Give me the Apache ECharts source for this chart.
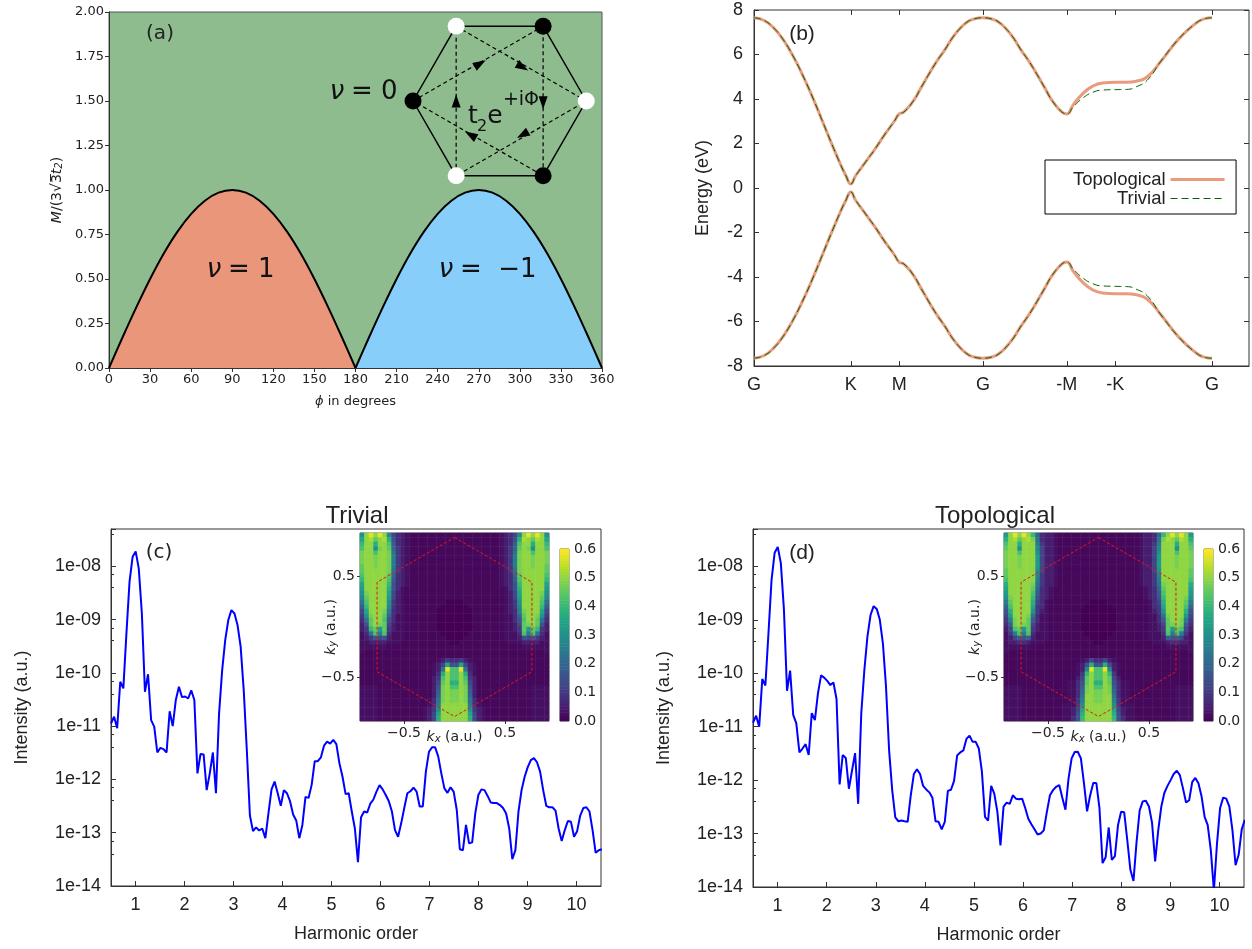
<!DOCTYPE html>
<html>
<head>
<meta charset="utf-8">
<style>html,body{margin:0;padding:0;background:#fff}#c{width:1252px;height:949px}</style>
<script src="https://cdn.jsdelivr.net/npm/echarts@6/dist/echarts.min.js"></script>
</head>
<body>
<div id="c"></div>
<script>
// ---------- panel (a) ----------
const phiLeft = [0,10,20,30,40,50,60,70,80,90,100,110,120,130,140,150,160,170,180];
const phiRight = [180,190,200,210,220,230,240,250,260,270,280,290,300,310,320,330,340,350,360];
const massLeft = [0,0.174,0.342,0.5,0.643,0.766,0.866,0.94,0.985,1,0.985,0.94,0.866,0.766,0.643,0.5,0.342,0.174,0];
const massRight = [0,0.174,0.342,0.5,0.643,0.766,0.866,0.94,0.985,1,0.985,0.94,0.866,0.766,0.643,0.5,0.342,0.174,0];
// honeycomb sketch, in the panel's own axis units
const hexPhi = [222,253.5,317,348.5,317,253.5,222];
const hexMass = [1.5,1.92,1.92,1.5,1.08,1.08,1.5];
const dashAPhi = [222,317,317,222];
const dashAMass = [1.5,1.92,1.08,1.5];
const dashBPhi = [253.5,348.5,253.5,253.5];
const dashBMass = [1.92,1.5,1.08,1.92];
const blackNodes = [[222,1.5],[317,1.92],[317,1.08]];
const whiteNodes = [[253.5,1.92],[348.5,1.5],[253.5,1.08]];
const arrowPhi = [271,302,253.5,317,302,264];
const arrowMass = [1.71,1.69,1.5,1.49,1.31,1.31];
const arrowTurn = [-60,-120,0,180,120,60];

// ---------- panel (b) ----------
const pathX = [0,0.2,0.4,0.6,0.8,1,1.2,1.4,1.6,1.8,1.9,2,2.1,2.3,2.5,2.7,2.9,3,3.1,3.29,3.45,3.61,3.78,3.94,4.1,4.27,4.4,4.52,4.73,4.94,5.06,5.19,5.36,5.52,5.68,5.85,6.01,6.17,6.36,6.464,6.6,6.8,7,7.2,7.464,7.7,7.9,8.13,8.41,8.77,9.1,9.3,9.464];
const topoUpper = [7.65,7.54,7.21,6.68,5.96,5.1,4.13,3.08,2.02,1,0.55,0.18,0.55,1.15,1.75,2.4,3,3.33,3.42,3.9,4.5,5.1,5.7,6.2,6.75,7.2,7.45,7.58,7.65,7.58,7.45,7.2,6.75,6.2,5.7,5.1,4.5,3.9,3.42,3.33,3.75,4.25,4.58,4.72,4.75,4.75,4.8,5,5.7,6.68,7.35,7.6,7.65];
const topoLower = [-7.65,-7.54,-7.21,-6.68,-5.96,-5.1,-4.13,-3.08,-2.02,-1,-0.55,-0.18,-0.55,-1.15,-1.75,-2.4,-3,-3.33,-3.42,-3.9,-4.5,-5.1,-5.7,-6.2,-6.75,-7.2,-7.45,-7.58,-7.65,-7.58,-7.45,-7.2,-6.75,-6.2,-5.7,-5.1,-4.5,-3.9,-3.42,-3.33,-3.75,-4.25,-4.58,-4.72,-4.75,-4.75,-4.8,-5,-5.7,-6.68,-7.35,-7.6,-7.65];
const trivUpper = [7.65,7.54,7.21,6.68,5.96,5.1,4.13,3.08,2.02,1,0.55,0.18,0.55,1.15,1.75,2.4,3,3.33,3.42,3.9,4.5,5.1,5.7,6.2,6.75,7.2,7.45,7.58,7.65,7.58,7.45,7.2,6.75,6.2,5.7,5.1,4.5,3.9,3.42,3.33,3.65,4.05,4.3,4.4,4.42,4.43,4.55,4.85,5.7,6.68,7.35,7.6,7.65];
const trivLower = [-7.65,-7.54,-7.21,-6.68,-5.96,-5.1,-4.13,-3.08,-2.02,-1,-0.55,-0.18,-0.55,-1.15,-1.75,-2.4,-3,-3.33,-3.42,-3.9,-4.5,-5.1,-5.7,-6.2,-6.75,-7.2,-7.45,-7.58,-7.65,-7.58,-7.45,-7.2,-6.75,-6.2,-5.7,-5.1,-4.5,-3.9,-3.42,-3.33,-3.65,-4.05,-4.3,-4.4,-4.42,-4.43,-4.55,-4.85,-5.7,-6.68,-7.35,-7.6,-7.65];
const kPositions = [0,2,3,4.732,6.464,7.464,9.464];
const kNames = ['G','K','M','G','-M','-K','G'];

// ---------- panels (c), (d) ----------
const harmonicStep = 0.063;
const harmonicStart = 0.5;
const harmonicTicks = [1,2,3,4,5,6,7,8,9,10];
const spectrumTrivial = [1.12e-11,1.5e-11,9.1e-12,6.8e-11,5.1e-11,5.5e-10,5.1e-9,1.5e-8,1.9e-8,9e-9,1.3e-9,4.4e-11,9.4e-11,1.3e-11,9.8e-12,3.2e-12,3.9e-12,3.7e-12,3.2e-12,1.9e-11,1e-11,3.1e-11,5.5e-11,3.5e-11,3.6e-11,3.3e-11,4.7e-11,3.1e-11,1.3e-12,3e-12,2.95e-12,6.3e-13,1.3e-12,3.2e-12,5.5e-13,1.7e-11,1.1e-10,4.1e-10,9.8e-10,1.5e-9,1.3e-9,7.8e-10,3.1e-10,4.7e-11,3.5e-12,2.1e-13,1.07e-13,1.26e-13,1.1e-13,1.2e-13,7.9e-14,2.3e-13,6.5e-13,9.1e-13,5.5e-13,3.2e-13,6.3e-13,5.5e-13,3.9e-13,2.2e-13,1.7e-13,7.9e-14,1.4e-13,4.7e-13,4.5e-13,7.9e-13,2.2e-12,2.2e-12,2.6e-12,4.3e-12,5.1e-12,4.7e-12,5.5e-12,4.6e-12,2e-12,1.12e-12,5.3e-13,5.5e-13,2.5e-13,1.2e-13,2.8e-14,1.95e-13,2.5e-13,2.4e-13,3.5e-13,4.2e-13,5.9e-13,7.8e-13,6.5e-13,5.1e-13,3.9e-13,2.5e-13,1.12e-13,8.4e-14,1.5e-13,2.9e-13,5.5e-13,6e-13,7e-13,5.9e-13,3.1e-13,3.1e-13,1.4e-12,3.3e-12,4e-12,4e-12,2.7e-12,1.3e-12,6.8e-13,5.6e-13,7.1e-13,5.9e-13,2.7e-13,4.9e-14,4.7e-14,1.4e-13,6.3e-14,6.6e-14,2.3e-13,5.1e-13,6.5e-13,6.3e-13,4.9e-13,3.7e-13,3.6e-13,3.6e-13,3.3e-13,2.9e-13,2.3e-13,1.2e-13,3.2e-14,4.7e-14,2.5e-13,6.3e-13,1.12e-12,1.7e-12,2.3e-12,2.5e-12,2.1e-12,1.4e-12,6.3e-13,3.2e-13,3e-13,3e-13,2.6e-13,1.2e-13,7e-14,1.12e-13,1.66e-13,1.6e-13,8.4e-14,1.07e-13,2.1e-13,2.9e-13,3e-13,2.5e-13,1.12e-13,4.2e-14,4.7e-14,4.9e-14];
const spectrumTopological = [1.19e-11,1.6e-11,1e-11,7.8e-11,5.9e-11,5.6e-10,5.6e-9,1.8e-8,2.3e-8,1.15e-8,1.55e-9,4.7e-11,1.12e-10,1.66e-11,1.15e-11,3.3e-12,3.9e-12,4.7e-12,2.95e-12,1.8e-11,1.33e-11,4.2e-11,9.1e-11,8.3e-11,7.2e-11,6e-11,6.7e-11,3.3e-11,8.3e-13,2.95e-12,2.6e-12,6.9e-13,1.5e-12,3.2e-12,3.6e-13,1.78e-11,1.15e-10,4.9e-10,1.23e-9,1.8e-9,1.6e-9,1e-9,3.6e-10,5.6e-11,3.6e-12,6.5e-13,2e-13,1.7e-13,1.75e-13,1.7e-13,1.66e-13,5.2e-13,1.3e-12,1.6e-12,1.3e-12,7.8e-13,6.7e-13,5.9e-13,4.7e-13,1.7e-13,1.66e-13,1.2e-13,1.66e-13,6.3e-13,6.6e-13,9.7e-13,2.9e-12,3.3e-12,3.6e-12,5.9e-12,6.8e-12,5.2e-12,5.2e-12,3.9e-12,1.44e-12,2.05e-13,1.75e-13,7.8e-13,5.6e-13,2.55e-13,6e-14,3.2e-13,3.8e-13,3.6e-13,5.2e-13,4.5e-13,4.4e-13,4.5e-13,3e-13,1.9e-13,1.5e-13,1.2e-13,9.6e-14,1e-13,1.15e-13,2.55e-13,5.2e-13,6.5e-13,7.5e-13,8.1e-13,4.7e-13,2.8e-13,1.07e-12,2.55e-12,3.35e-12,3.4e-12,2.55e-12,8.7e-13,2.6e-13,5.2e-13,8.8e-13,8.8e-13,3e-13,2.8e-14,3.6e-14,1.3e-13,3.2e-14,3.8e-14,1.44e-13,2.55e-13,2.5e-13,7.5e-14,2.1e-14,1.3e-14,7e-14,2.7e-13,4e-13,4.1e-13,3.2e-13,1.6e-13,3e-14,1.15e-13,3.2e-13,5.8e-13,7.8e-13,1e-12,1.3e-12,1.5e-12,1.24e-12,7e-13,3.8e-13,4.2e-13,9.3e-13,1.1e-12,8.7e-13,5e-13,2.05e-13,1.44e-13,4.9e-14,8.6e-15,6.5e-14,3e-13,4.7e-13,4.5e-13,3.2e-13,1.15e-13,2.55e-14,4e-14,1.2e-13,1.8e-13];

// ---------- insets: left half of each row (10|5|6 cells), top row first.
// one base-36 digit = 0.025; '.' = faint background
const cellStep = 0.025;
const faintCell = 0.012;
const occupationTrivial = [
"cknknkb532|1....|......","ekliklf632|1....|......","gkkfkkh732|1....|......","hkkcjki842|1....|......",
"jkkhkkj942|1....|......","jkkjkkja42|1....|......","jkkjkkja42|1....|......","ikkjkkja42|1....|......",
"ikkkkkj942|1....|......","hkkkkki832|1....|......","gkkkkkh732|1....|......","ekkkkkg632|1....|......",
"dkkkkkf631|.....|......","cjkkkke521|.....|......","bikkkkd521|.....|......","9hkkkkc421|.....|....00",
"7gkkkkb421|.....|...000","5ekkkja321|.....|..0000","4cjkki8311|.....|..0000","39ikkh6311|.....|..0000",
"26ikji5211|.....|..0000","24gidi4211|.....|..0000","139hah3111|.....|...000","1246562111|.....|....00",
"112222111.|.....|.....0","111111....|.....|......","1.........|.....|......","..........|.....|......",
"..........|.....|..1243","..........|.....|.125e6","..........|.....|.129nh","..........|.....|.13fkh",
"..........|.....|.24hkh","..........|.....|.25ikf","1111......|.....|.26jkh","1111......|.....|.27jkj",
"1111......|.....|.28jkj","1111......|.....|139jkj","1111......|.....|13akkk","1111......|....1|24ckkk",
"1111......|....1|25ekkk","1111......|....1|25fkkk"];
const occupationTopological = [
"dknknkg832|21...|......","fkliklj932|21...|......","hkkfkkka42|21...|......","ikkckkkb52|21...|......",
"jkkhkkkc52|21...|......","jkkjkkkd52|21...|......","jkkjkkkd52|21...|......","jkkjkkkd52|21...|......",
"ikkkkkkc52|21...|......","ikkkkkkb42|21...|......","hkkkkkka42|21...|......","fkkkkkj942|21...|......",
"ekkkkki832|1....|......","dkkkkkh732|1....|......","cjkkkkg632|1....|......","aikkkkf531|.....|....00",
"8hkkkke431|.....|...000","6fkkkkc421|.....|..0000","5dkkkj9311|.....|..0000","4ajkki7311|.....|..0000",
"37jkji5211|.....|..0000","25hidi4211|.....|..0000","14ahah3111|.....|...000","1257672111|.....|....00",
"122332111.|.....|.....0","111111....|.....|......","1.........|.....|......","..........|.....|......",
"..........|.....|..1253","..........|.....|.126f6","..........|.....|.12bnh","..........|.....|.14gkh",
"..........|.....|.25ikh","..........|....1|136ikf","1111......|....1|137jkh","1111......|....1|138jkj",
"1111......|....1|139kkj","1111......|....1|14akkj","1111......|...11|14ckkk","1111......|...11|25ekkk",
"1111......|...11|26fkkk","1111......|...11|36gkkk"];
const bzX = [0,0.767,0.767,0,-0.767,-0.767,0];
const bzY = [0.886,0.443,-0.443,-0.886,-0.443,0.443,0.886];
const insetTicks = [-0.5,0.5];
const colorbarLevels = [0.005,0.015,0.025,0.035,0.045,0.055,0.065,0.075,0.085,0.095,0.105,0.115,0.125,0.135,0.145,0.155,0.165,0.175,0.185,0.195,0.205,0.215,0.225,0.235,0.245,0.255,0.265,0.275,0.285,0.295,0.305,0.315,0.325,0.335,0.345,0.355,0.365,0.375,0.385,0.395,0.405,0.415,0.425,0.435,0.445,0.455,0.465,0.475,0.485,0.495,0.505,0.515,0.525,0.535,0.545,0.555,0.565,0.575,0.585,0.595];
const viridis = ['#440154','#482475','#414487','#355f8d','#2a788e','#21918c','#22a884','#44bf70','#7ad151','#bddf26','#fde725'];

const SANS = '"Liberation Sans"';
const DEJA = '"DejaVu Sans"';
const INK = '#222';
const zip = (a, b) => a.map((v, i) => [v, b[i]]);

const grid = [], xAxis = [], yAxis = [], series = [], heatIdx = [];
function addGrid(l, t, r, b, extra) {
  grid.push(Object.assign({left:l, top:t, width:r-l, height:b-t, show:true, borderColor:'#333', borderWidth:1, backgroundColor:'transparent', containLabel:false}, extra||{}));
  return grid.length-1;
}
function addX(o){ xAxis.push(o); return xAxis.length-1; }
function addY(o){ yAxis.push(o); return yAxis.length-1; }
const noSplit = {show:false};

// ===== (a)
{
  const g = addGrid(109, 12, 602, 368, {backgroundColor:'#8fbc8f', borderColor:'#555'});
  const lab = {color:INK, fontFamily:DEJA, fontSize:13, margin:5};
  const xa = addX({gridIndex:g, type:'value', min:0, max:360, interval:30, splitLine:noSplit,
    axisLine:{show:true, onZero:false, lineStyle:{color:'#333'}}, axisTick:{length:4, lineStyle:{color:'#333'}}, axisLabel:lab,
    name:'{i|\u03d5} in degrees', nameLocation:'middle', nameGap:27,
    nameTextStyle:{color:INK, fontFamily:DEJA, fontSize:13, rich:{i:{fontStyle:'italic', fontFamily:DEJA, fontSize:13, color:INK}}}});
  const ya = addY({gridIndex:g, type:'value', min:0, max:2, interval:0.25, splitLine:noSplit,
    axisLine:{show:true, onZero:false, lineStyle:{color:'#333'}}, axisTick:{length:4, lineStyle:{color:'#333'}},
    axisLabel:Object.assign({}, lab, {formatter:v=>v.toFixed(2)}),
    name:'{i|M}/(3\u221a3\u0305{i|t}{s|2})', nameLocation:'middle', nameGap:45,
    nameTextStyle:{color:INK, fontFamily:DEJA, fontSize:14, rich:{i:{fontStyle:'italic', fontFamily:DEJA, fontSize:14, color:INK}, s:{fontStyle:'italic', fontFamily:DEJA, fontSize:10, color:INK, verticalAlign:'bottom'}}}});
  const base = {type:'line', xAxisIndex:xa, yAxisIndex:ya, symbol:'none', silent:true, animation:false};
  series.push(Object.assign({}, base, {data:zip(phiLeft, massLeft), smooth:0.3, lineStyle:{color:'#000', width:2}, areaStyle:{color:'#e9967a', opacity:1}, z:2}));
  series.push(Object.assign({}, base, {data:zip(phiRight, massRight), smooth:0.3, lineStyle:{color:'#000', width:2}, areaStyle:{color:'#87cefa', opacity:1}, z:2}));
  series.push(Object.assign({}, base, {data:zip(hexPhi, hexMass), lineStyle:{color:'#000', width:1.5}, z:3}));
  series.push(Object.assign({}, base, {data:zip(dashAPhi, dashAMass), lineStyle:{color:'#000', width:1.2, type:[4,3]}, z:3}));
  series.push(Object.assign({}, base, {data:zip(dashBPhi, dashBMass), lineStyle:{color:'#000', width:1.2, type:[4,3]}, z:3}));
  series.push({type:'scatter', xAxisIndex:xa, yAxisIndex:ya, silent:true, animation:false, z:5, symbol:'triangle', symbolSize:[9,13], itemStyle:{color:'#000', opacity:1},
    data:arrowPhi.map((p,i)=>({value:[p,arrowMass[i]], symbolRotate:arrowTurn[i]}))});
  series.push({type:'scatter', xAxisIndex:xa, yAxisIndex:ya, silent:true, animation:false, z:6, symbolSize:17, itemStyle:{color:'#000', opacity:1}, data:blackNodes});
  series.push({type:'scatter', xAxisIndex:xa, yAxisIndex:ya, silent:true, animation:false, z:6, symbolSize:17, itemStyle:{color:'#fff', opacity:1}, data:whiteNodes});
}

// ===== (b)
{
  const g = addGrid(754, 10, 1249, 366);
  const lab = {color:INK, fontFamily:SANS, fontSize:18};
  const tick = {inside:true, length:5, lineStyle:{color:'#333'}};
  const xa = addX({gridIndex:g, type:'value', position:'bottom', min:0, max:10.23, splitLine:noSplit,
    axisLine:{show:true, onZero:false, lineStyle:{color:'#333'}},
    axisTick:Object.assign({customValues:kPositions}, tick),
    axisLabel:Object.assign({customValues:kPositions, margin:10, formatter:v=>kNames[kPositions.indexOf(v)]}, lab)});
  addX({gridIndex:g, type:'value', position:'top', min:0, max:10.23, splitLine:noSplit, axisLine:{show:false, onZero:false},
    axisTick:Object.assign({customValues:kPositions}, tick), axisLabel:{show:false}});
  const ya = addY({gridIndex:g, type:'value', position:'left', min:-8, max:8, interval:2, splitLine:noSplit,
    axisLine:{show:true, onZero:false, lineStyle:{color:'#333'}}, axisTick:tick, axisLabel:Object.assign({margin:11}, lab),
    name:'Energy (eV)', nameLocation:'middle', nameGap:42, nameTextStyle:{color:INK, fontFamily:SANS, fontSize:18}});
  addY({gridIndex:g, type:'value', position:'right', min:-8, max:8, interval:2, splitLine:noSplit, axisLine:{show:false, onZero:false}, axisTick:tick, axisLabel:{show:false}});
  const base = {type:'line', xAxisIndex:xa, yAxisIndex:ya, symbol:'none', silent:true, animation:false, smooth:0.5};
  const solid = {color:'#ea9a7e', width:3};
  const dash = {color:'#006400', width:1, type:[7,4]};
  series.push(Object.assign({}, base, {name:'Topological', color:'#ea9a7e', data:zip(pathX, topoUpper), lineStyle:solid, z:2}));
  series.push(Object.assign({}, base, {name:'Topological', color:'#ea9a7e', data:zip(pathX, topoLower), lineStyle:solid, z:2}));
  series.push(Object.assign({}, base, {name:'Trivial', color:'#006400', data:zip(pathX, trivUpper), lineStyle:dash, z:3}));
  series.push(Object.assign({}, base, {name:'Trivial', color:'#006400', data:zip(pathX, trivLower), lineStyle:dash, z:3}));
}

// ===== (c), (d)
function spectrumPanel(l, r, t, b, values, rows, insetL, barL) {
  const g = addGrid(l, t, r, b);
  const lab = {color:INK, fontFamily:SANS, fontSize:18};
  const tick = {inside:true, length:5, lineStyle:{color:'#333'}};
  const xa = addX({gridIndex:g, type:'value', position:'bottom', min:0.5, max:10.5, splitLine:noSplit,
    axisLine:{show:true, onZero:false, lineStyle:{color:'#333'}},
    axisTick:Object.assign({customValues:harmonicTicks}, tick),
    axisLabel:Object.assign({customValues:harmonicTicks, margin:10}, lab),
    name:'Harmonic order', nameLocation:'middle', nameGap:39, nameTextStyle:{color:INK, fontFamily:SANS, fontSize:18}});
  const ya = addY({gridIndex:g, type:'log', position:'left', logBase:10, min:1e-14, max:5e-8, splitLine:noSplit, minorSplitLine:{show:false},
    axisLine:{show:true, onZero:false, lineStyle:{color:'#333'}}, axisTick:tick, minorTick:{show:true, splitNumber:3, length:3, lineStyle:{color:'#333'}},
    axisLabel:Object.assign({margin:10, showMaxLabel:false, formatter:v=>{
      const e=Math.log10(v); if(Math.abs(e-Math.round(e))>1e-6) return '';
      return '1e-'+String(-Math.round(e)).padStart(2,'0');
    }}, lab),
    name:'Intensity (a.u.)', nameLocation:'middle', nameGap:80, nameTextStyle:{color:INK, fontFamily:SANS, fontSize:18}});
  series.push({type:'line', xAxisIndex:xa, yAxisIndex:ya, symbol:'none', silent:true, animation:false, clip:true,
    data:values.map((v,i)=>[harmonicStart+i*harmonicStep, v]), lineStyle:{color:'#0000ff', width:2}, z:2});

  // inset map
  const insetT = 533, insetB = 721, insetR = insetL + 189;
  const gi = addGrid(insetL, insetT, insetR, insetB, {borderColor:'#666'});
  const n = rows.length;
  const cats = rows.map((_,i)=>String(i));
  const cx = addX({gridIndex:gi, type:'category', position:'top', data:cats.concat([]), show:false});
  const cy = addY({gridIndex:gi, type:'category', position:'right', data:cats, show:false});
  const mapData = [];
  rows.forEach((row,r)=>{
    const half = row.replace(/\|/g,'');
    const line = half + half.split('').reverse().join('');
    line.split('').forEach((ch,c)=>mapData.push([c, n-1-r, ch==='.'?faintCell:parseInt(ch,36)*cellStep]));
  });
  heatIdx.push(series.length);
  series.push({type:'heatmap', xAxisIndex:cx, yAxisIndex:cy, data:mapData, silent:true, animation:false, progressive:0, itemStyle:{borderWidth:0}, z:6});
  const ilab = {color:INK, fontFamily:DEJA, fontSize:14};
  const itick = {length:3, lineStyle:{color:'#333'}};
  const rich = {k:{fontStyle:'italic', fontFamily:DEJA, fontSize:14, color:INK}, s:{fontStyle:'italic', fontFamily:DEJA, fontSize:10, color:INK, verticalAlign:'bottom'}};
  const fmt = v=>(v<0?'\u2212':'')+Math.abs(v).toFixed(1);
  const vx = addX({gridIndex:gi, type:'value', position:'bottom', min:-0.936, max:0.936, splitLine:noSplit, axisLine:{show:false, onZero:false},
    axisTick:Object.assign({customValues:insetTicks}, itick),
    axisLabel:Object.assign({customValues:insetTicks, margin:5, formatter:fmt}, ilab),
    name:'{k|k}{s|x} (a.u.)', nameLocation:'middle', nameGap:9, nameMoveOverlap:false, nameTextStyle:{color:INK, fontFamily:DEJA, fontSize:14, rich}});
  const vy = addY({gridIndex:gi, type:'value', position:'left', min:-0.93, max:0.93, splitLine:noSplit, axisLine:{show:false, onZero:false},
    axisTick:Object.assign({customValues:insetTicks}, itick),
    axisLabel:Object.assign({customValues:insetTicks, margin:5, formatter:fmt}, ilab),
    name:'{k|k}{s|y} (a.u.)', nameLocation:'middle', nameGap:22, nameMoveOverlap:false, nameTextStyle:{color:INK, fontFamily:DEJA, fontSize:14, rich}});
  series.push({type:'line', xAxisIndex:vx, yAxisIndex:vy, symbol:'none', silent:true, animation:false, data:zip(bzX,bzY), lineStyle:{color:'#e8141c', width:1, type:[3,2]}, z:7});

  // colour bar
  const gb = addGrid(barL, 549, barL+9, 721, {borderColor:'#666'});
  const bx = addX({gridIndex:gb, type:'category', data:['0'], show:false});
  const by = addY({gridIndex:gb, type:'category', position:'left', data:colorbarLevels.map(String), show:false});
  heatIdx.push(series.length);
  series.push({type:'heatmap', xAxisIndex:bx, yAxisIndex:by, data:colorbarLevels.map((v,i)=>[0,i,v]), silent:true, animation:false, progressive:0, itemStyle:{borderWidth:0}, z:6});
  addY({gridIndex:gb, type:'value', position:'right', min:0, max:0.6, interval:0.1, splitLine:noSplit, axisLine:{show:false, onZero:false},
    axisTick:Object.assign({}, itick), axisLabel:Object.assign({margin:5, formatter:v=>v.toFixed(1)}, ilab)});
}
spectrumPanel(111, 601, 529, 886, spectrumTrivial, occupationTrivial, 360, 560);
spectrumPanel(753, 1244, 529, 887, spectrumTopological, occupationTopological, 1004, 1204);

const txt = (text, x, y, font, extra) => ({type:'text', x, y, z:50, silent:true,
  style:Object.assign({text, fill:'#222', font, textAlign:'center', textVerticalAlign:'middle'}, extra||{})});
const nu = (x, y, rest) => ([
  txt('\u03bd', x, y, 'italic 26px '+DEJA, {fill:'#111'}),
  txt(rest, x+14, y, '26px '+DEJA, {fill:'#111', textAlign:'left'})
]);

const option = {
  animation:false,
  backgroundColor:'#fff',
  title:[
    {text:'Trivial', left:352, top:499, textAlign:'center', textStyle:{fontFamily:SANS, fontSize:24, fontWeight:'normal', color:INK}},
    {text:'Topological', left:990, top:499, textAlign:'center', textStyle:{fontFamily:SANS, fontSize:24, fontWeight:'normal', color:INK}}
  ],
  grid, xAxis, yAxis, series,
  legend:{data:[{name:'Topological', itemStyle:{opacity:0}, lineStyle:{width:3, color:'#ea9a7e'}},
                {name:'Trivial', itemStyle:{opacity:0}, lineStyle:{width:1, color:'#006400', type:[7,4]}}],
    orient:'vertical', align:'right', left:1045, top:160,
    padding:[10,10,6,28], itemWidth:54, itemHeight:20, itemGap:0, backgroundColor:'#fff', borderColor:'#000', borderWidth:1,
    selectedMode:false, textStyle:{fontFamily:SANS, fontSize:18.5, color:INK}},
  visualMap:{show:false, type:'continuous', min:0, max:0.6, dimension:2, seriesIndex:heatIdx, inRange:{color:viridis}},
  graphic:[
    txt('(a)', 160, 34, '20px '+DEJA),
    txt('(b)', 802, 34, '21px '+SANS),
    txt('(c)', 159, 553, '20px '+DEJA),
    txt('(d)', 802, 553, '21px '+SANS),
    ...nu(214, 270, '= 1'),
    ...nu(446, 270, '=  \u22121'),
    ...nu(337, 92, '= 0'),
    txt('t', 473, 116, '25px '+DEJA, {fill:'#111'}),
    txt('2', 482, 127, '16px '+DEJA, {fill:'#111'}),
    txt('e', 495, 116, '25px '+DEJA, {fill:'#111'}),
    txt('+i\u03a6', 521, 100, '19px '+DEJA, {fill:'#111'})
  ]
};
const chart = echarts.init(document.getElementById('c'), null, {renderer:'canvas', width:1252, height:949});
chart.setOption(option);
</script>
</body>
</html>
